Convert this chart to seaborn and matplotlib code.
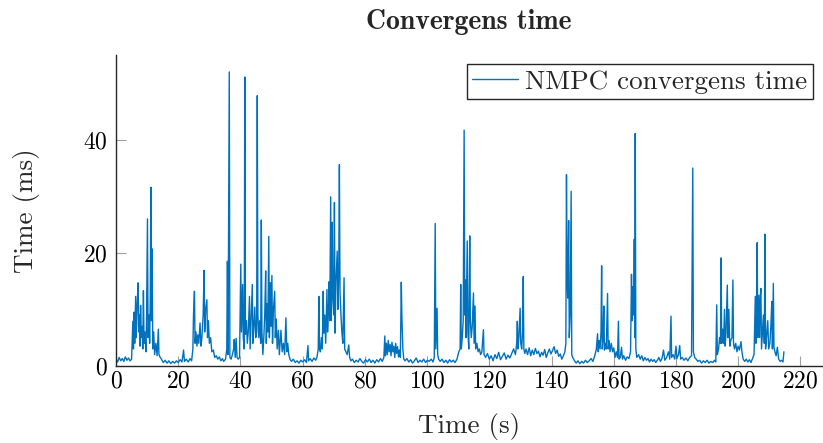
import matplotlib
matplotlib.use("Agg")
import matplotlib.pyplot as plt
import seaborn as sns
import pandas as pd

# time stamps (s) and solver convergence time (ms)
time_s = [
    0, 0.5, 1, 1.5, 2, 2.5, 3, 3.5, 4, 4.5, 5,
    5.4, 5.6, 5.8, 6.0, 6.3, 6.5, 6.8, 7.1, 7.3, 7.5, 7.7, 7.9, 8.1, 8.4, 8.6, 8.8, 9.0, 9.3, 9.6, 9.8,
    10.1, 10.3, 10.6, 10.8, 11.0, 11.2, 11.4, 11.6, 11.8, 12.1, 12.4, 12.8, 13.2, 13.6, 13.8, 14.2,
    14.6, 15.2, 15.8, 16.4, 17.0, 17.6, 18.2, 18.8, 19.4, 20.0, 20.6, 21.2, 21.7, 22.0, 22.6, 23.2, 23.8, 24.3,
    24.7, 24.9, 25.2, 25.4, 25.7, 26.0, 26.3, 26.6, 27.0, 27.3, 27.6, 28.0, 28.3, 28.5, 28.8, 29.2, 29.4, 29.7,
    30.0, 30.4, 30.8, 31.3, 31.7, 32.2, 32.7, 33.2, 33.7, 34.2, 34.6,
    35.2, 35.6, 35.8, 36.0, 36.4, 36.6, 37.0, 37.4, 37.8, 38.0, 38.3, 38.6, 38.9, 39.3, 39.7,
    40.1, 40.3, 40.7, 40.9, 41.2, 41.4, 41.6, 41.9, 42.2, 42.5, 42.9, 43.1, 43.4, 43.8, 44.0, 44.3, 44.6, 44.9,
    45.2, 45.4, 45.6, 45.9, 46.2, 46.5, 46.7, 46.9, 47.2, 47.5, 47.8, 48.1, 48.3, 48.6, 48.8, 49.1, 49.3, 49.6,
    49.8, 50.1, 50.3, 50.6, 51.0, 51.2, 51.5, 51.8, 52.2, 52.5, 53.0, 53.4, 53.8, 54.2, 54.6, 54.9, 55.2, 55.5, 55.9,
    56.4, 57.0, 57.6, 58.2, 58.8, 59.4, 60.0, 60.6, 61.2, 61.7, 61.9, 62.4, 63.0, 63.6, 64.2, 64.6,
    65.0, 65.2, 65.4, 65.7, 66.0, 66.3, 66.6, 66.8, 67.1, 67.4, 67.8, 68.0, 68.3, 68.5, 68.7, 69.0, 69.2, 69.5,
    69.7, 70.0, 70.2, 70.4, 70.7, 71.1, 71.3, 71.6, 71.8, 72.0, 72.3, 72.6, 72.9, 73.3, 73.5, 73.9, 74.3, 74.8,
    75.1, 75.5,
    76.0, 76.6, 77.2, 77.8, 78.4, 79.0, 79.6, 80.2, 80.8, 81.4, 82.0, 82.6, 83.2, 83.8, 84.4, 85.0, 85.6,
    86.1, 86.4, 86.6, 86.9, 87.2, 87.5, 87.8, 88.1, 88.4, 88.7, 89.0, 89.3, 89.6, 89.9, 90.2, 90.5, 90.8, 91.1,
    91.4, 91.7, 91.9, 92.2, 92.5, 92.9,
    93.5, 94.1, 94.7, 95.3, 95.9, 96.5, 97.1, 97.7, 98.3, 98.9, 99.5, 100.1, 100.7, 101.3, 101.9,
    102.3, 102.6, 102.8, 103.2, 103.4, 103.7,
    104.2, 104.8, 105.4, 106.0, 106.6, 107.2, 107.8, 108.4, 109.0, 109.6, 110.2,
    110.6, 110.8, 111.0, 111.3, 111.6, 111.9, 112.1, 112.3, 112.5, 112.7, 112.9, 113.1, 113.4, 113.7, 113.9,
    114.2, 114.5, 114.9, 115.1, 115.4, 115.6, 116.0, 116.4, 116.8, 117.2, 117.6, 118.1, 118.3,
    118.8, 119.4, 120.0, 120.6, 121.2, 121.8, 122.4, 123.0, 123.6, 124.2, 124.8, 125.4, 126.0, 126.6, 127.2,
    127.8, 128.4,
    128.8, 129.0, 129.2, 129.5, 129.9, 130.1, 130.4, 130.7, 130.9, 131.1, 131.4,
    131.8, 132.3, 132.8, 133.3, 133.8, 134.3, 134.8, 135.3, 135.8, 136.3, 136.8, 137.3, 137.8, 138.3, 138.8,
    139.3, 139.8, 140.3, 140.8, 141.3, 141.8, 142.3, 142.8, 143.3, 143.8, 144.3,
    144.6, 144.8, 145.0, 145.2, 145.5, 145.7, 146.0, 146.3, 146.5, 146.8,
    147.3, 147.9, 148.5, 149.1, 149.7, 150.3, 150.9, 151.5, 152.1, 152.7, 153.3, 153.9,
    154.4, 154.8, 155.0, 155.3, 155.6, 155.9, 156.1, 156.3, 156.6, 156.8, 157.0, 157.3, 157.6, 158.0, 158.2,
    158.5, 158.8, 159.2, 159.6, 160.0, 160.4, 160.8, 161.2, 161.5, 161.7, 162.1, 162.5, 162.8, 163.2, 163.8,
    164.3, 164.9, 165.4,
    165.7, 165.9, 166.1, 166.4, 166.6, 166.75, 166.9, 167.1, 167.4,
    168.0, 168.5, 169.0, 169.5, 170.0, 170.5, 171.0, 171.5, 172.0, 172.5, 173.0, 173.5, 174.0, 174.5, 175.0,
    175.5, 176.0, 176.4, 177.0, 177.6, 178.0, 178.4, 178.6, 179.1, 179.6, 180.0, 180.3, 180.8, 181.2, 181.5,
    182.0, 182.6, 183.2, 183.8, 184.4, 185.0, 185.4, 185.6, 186.0,
    186.5, 187.0, 187.6, 188.2, 188.8, 189.4, 190.0, 190.6, 191.2, 191.8, 192.4, 192.8,
    193.1, 193.3, 193.7, 194.0, 194.3, 194.5, 194.7, 195.0, 195.3, 195.6, 195.8, 196.1, 196.5, 196.7, 197.0,
    197.3, 197.6, 198.0, 198.3, 198.5, 198.8, 199.2, 199.6, 200.0, 200.4, 200.9, 201.2, 201.6,
    202.1, 202.6, 203.1, 203.6, 204.1, 204.6, 205.1,
    205.5, 205.7, 205.9, 206.1, 206.3, 206.6, 206.9, 207.1, 207.3, 207.5, 207.8, 208.1, 208.4, 208.6, 208.8,
    209.1, 209.5, 209.8, 210.2, 210.5, 210.8, 211.0, 211.3, 211.5, 211.8, 212.2, 212.6, 213.0, 213.5, 214.0,
    214.4, 214.7,
]

conv_ms = [
    1.2, 0.7, 1.5, 0.9, 1.3, 0.8, 1.6, 1.0, 1.4, 0.9, 1.2,
    7.9, 3, 9.5, 4, 12.3, 5, 11, 14.7, 6, 9, 3.5, 10.7, 5, 7, 3, 13.3, 4, 6, 2.5, 8,
    26, 5, 9, 4, 12, 31.6, 8, 20.7, 3, 6, 2, 4, 1.8, 6.5, 2, 1.5,
    1.2, 0.6, 1.0, 0.5, 0.9, 0.4, 0.8, 0.5, 0.9, 0.6, 1.1, 0.7, 2.8, 0.8, 1.2, 0.7, 1.3, 0.9,
    3, 9, 13.2, 4, 6, 3.5, 5.5, 4, 7.6, 3.5, 5, 9, 16.9, 6, 10, 11.7, 5, 8,
    4, 5, 2.5, 2.8, 1.5, 1.8, 1.2, 1.6, 0.9, 1.3, 0.8,
    1.2, 3, 18.5, 2, 52, 1.5, 1.2, 2, 3, 4.7, 1.5, 4.9, 1.5, 1.2, 1.5,
    18, 6, 14.4, 5, 3, 51.1, 5.6, 8, 4, 6, 12.3, 3, 8, 14.4, 4, 7, 10.4, 5,
    6, 47.8, 9, 5, 8, 4, 25.8, 6, 2, 5, 9, 16.8, 4, 11, 6, 22.9, 5, 14.7,
    7, 16, 4, 10, 13.2, 5, 8.3, 3, 6.3, 2, 6.3, 2.5, 4, 2, 8.5, 2.5, 4, 2.1, 1.2,
    0.8, 1.2, 0.6, 0.9, 0.5, 1.0, 0.7, 1.1, 0.6, 3.6, 0.9, 1.3, 0.8, 1.4, 1.0, 1.6,
    3, 12.3, 3, 2.5, 5, 3, 13.2, 5.8, 9, 4, 13.5, 6, 10, 14.9, 8, 29.9, 8, 25.4,
    12, 9, 28.9, 5.8, 15, 20.3, 10, 17, 35.6, 13.2, 9, 6, 4, 15.6, 3, 2.5, 2, 3.7,
    1.5, 0.9,
    1.2, 0.6, 1.0, 0.7, 1.3, 0.8, 0.5, 1.1, 0.7, 1.2, 0.6, 1.0, 0.5, 1.1, 0.7, 1.3, 0.8,
    1.5, 5.3, 1.8, 4, 2, 4.5, 2.5, 3.8, 1.8, 4.2, 2.5, 3.5, 1.5, 4, 2.2, 3.4, 1.6, 2.8,
    1.5, 14.8, 8.5, 3, 1.2, 0.9,
    1.3, 0.7, 1.1, 0.5, 0.9, 1.4, 0.6, 1.0, 0.7, 1.2, 0.6, 1.0, 0.8, 1.2, 0.7,
    1.5, 25.2, 3, 10.2, 2, 1.2,
    0.8, 1.2, 0.6, 1.0, 0.5, 1.1, 0.7, 1.0, 0.6, 1.2, 2.5,
    3, 14.4, 3, 5, 8, 41.7, 9, 15.2, 5, 14, 22.1, 6, 3, 23, 8,
    5, 7, 12.9, 4, 10.6, 3, 4, 2.5, 3, 2, 2.5, 6.4, 2,
    1.5, 2.2, 1.2, 1.8, 0.9, 2.0, 1.3, 2.4, 1.1, 1.7, 2.3, 1.2, 1.9, 1.4, 2.2,
    3, 2,
    4, 7.9, 3, 5, 10.2, 4, 3, 6, 15.8, 3, 2.2,
    3, 2, 3.2, 1.8, 2.8, 2.0, 3.1, 2.2, 2.6, 1.6, 2.4, 1.9, 2.9, 1.5, 2.3,
    3.0, 2.1, 2.7, 3.4, 2.2, 2.8, 1.7, 2.1, 1.2, 1.8, 2.5,
    4, 33.8, 15.5, 12, 25.7, 5, 9, 30.9, 2, 1.5,
    1.0, 0.5, 0.9, 0.4, 0.8, 0.5, 1.0, 0.6, 0.9, 1.3, 0.8, 1.8,
    3, 5.7, 2.5, 4.5, 3, 6, 17.7, 3, 5, 10.6, 2.8, 4, 3, 12.8, 3,
    4.5, 2.5, 4, 2.5, 3.2, 1.5, 2.5, 1.5, 7.9, 1.2, 1.5, 3.3, 1.2, 1.8, 1.0,
    1.6, 1.3, 2.5,
    16.2, 8, 14, 9, 22.4, 5, 41.1, 3, 1.5,
    2.0, 1.2, 1.8, 0.9, 1.5, 1.0, 1.3, 0.7, 1.2, 0.8, 1.1, 0.6, 1.0, 1.5, 0.8,
    1.3, 2.8, 1.0, 1.5, 2.5, 1.2, 8.8, 1.5, 2, 1.2, 3.5, 1.3, 2, 3.6, 1.2,
    1.5, 1.0, 1.4, 0.9, 1.5, 1.8, 35, 2.5, 1.5,
    1.2, 0.8, 1.0, 0.5, 0.9, 0.6, 1.0, 0.5, 0.8, 0.6, 1.0, 0.7,
    10.8, 2, 3, 5, 4, 19.1, 4, 6.5, 4, 10, 3.5, 6, 14.3, 5, 10,
    3.5, 4.5, 5, 15.2, 4, 3, 4, 2.5, 3.5, 2.8, 4.3, 2.5, 1.2,
    0.8, 1.2, 0.7, 1.1, 0.6, 1.3, 2,
    12.3, 4, 8, 21.8, 5, 12.5, 5, 12.3, 13.7, 3, 6, 9, 4, 23.3, 3,
    5, 8, 3, 4, 7, 11.4, 3, 14.6, 3.3, 2.5, 1.8, 3.3, 1.2, 0.8, 1.0,
    0.7, 2.5,
]

x_ticks = [0, 20, 40, 60, 80, 100, 120, 140, 160, 180, 200, 220]
y_ticks = [0, 20, 40]

df = pd.DataFrame({"t": time_s, "ms": conv_ms})

sns.set_style("ticks")
plt.rcParams["font.family"] = ["cmr10", "DejaVu Serif"]
plt.rcParams["mathtext.fontset"] = "cm"
plt.rcParams["axes.formatter.use_mathtext"] = True

fig = plt.figure(figsize=(8.23, 4.43), dpi=100)
ax = fig.add_axes([0.141, 0.174, 0.858, 0.702])

sns.lineplot(data=df, x="t", y="ms", ax=ax, color="#0072BD", lw=1.0,
             estimator=None, sort=False, label="NMPC convergens time")

ax.set_xlim(0, 227)
ax.set_ylim(0, 55)
ax.set_xticks(x_ticks)
ax.set_yticks(y_ticks)
ax.tick_params(direction="in", length=7, width=0.8, color="#a0a0a0",
               labelcolor="black", labelsize=17)
ax.tick_params(axis="x", pad=3)
ax.tick_params(axis="y", pad=6)
for side in ["top", "right"]:
    ax.spines[side].set_visible(False)
for side in ["left", "bottom"]:
    ax.spines[side].set_color("#262626")
    ax.spines[side].set_linewidth(1.0)

ax.set_xlabel("Time (s)", fontsize=19.5, labelpad=15)
ax.set_ylabel("Time (ms)", fontsize=19.5, labelpad=31)
ax.set_title("Convergens time", fontsize=20, fontfamily="cmb10", pad=19)

leg = ax.legend(loc="upper right", fontsize=19.5, frameon=True, fancybox=False,
                borderaxespad=0.35, handlelength=1.7, handletextpad=0.25,
                borderpad=0.2)
leg.get_frame().set_edgecolor("#262626")
leg.get_frame().set_linewidth(1.0)
leg.get_frame().set_alpha(1)

fig.savefig("out.png", dpi=100)
